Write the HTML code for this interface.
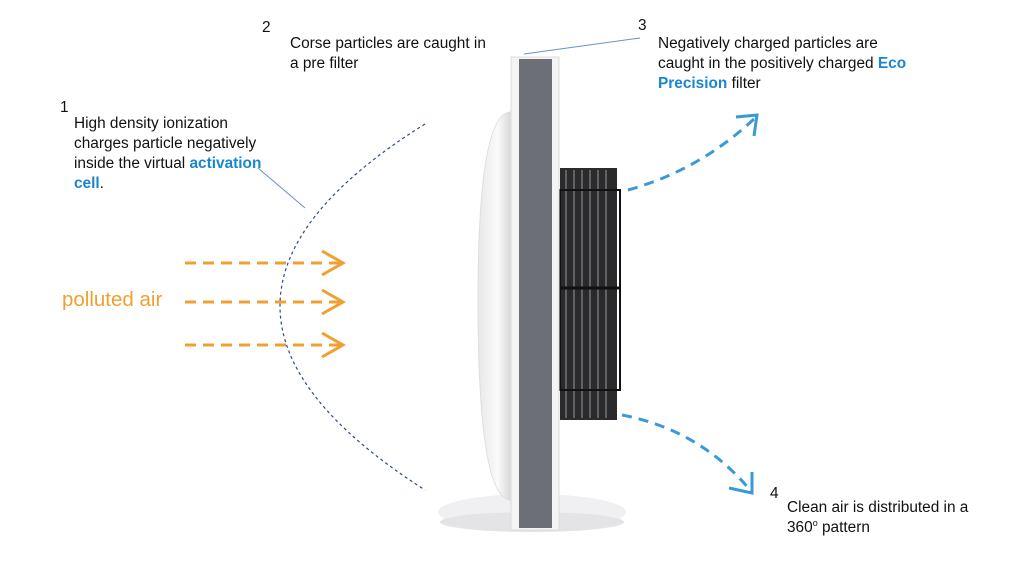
<!DOCTYPE html>
<html><head><style>
body{margin:0;width:1024px;height:576px;background:#fff;position:relative;overflow:hidden;font-family:"Liberation Sans",sans-serif;}
.t{position:absolute;font-size:15.4px;line-height:20px;color:#111;white-space:nowrap;}
.b{color:#1a86d0;font-weight:bold}
</style></head><body>
<svg width="1024" height="576" style="position:absolute;left:0;top:0">
<defs>
<linearGradient id="g1" x1="0" x2="1"><stop offset="0" stop-color="#e8e8ea"/><stop offset="0.6" stop-color="#fafafa"/><stop offset="1" stop-color="#d8d8da"/></linearGradient>
</defs>
<ellipse cx="532" cy="512" rx="94" ry="18" fill="#f0f0f2"/>
<ellipse cx="532" cy="522" rx="92" ry="10" fill="#e4e4e6"/>
<path d="M511 112 Q478 112 478 300 Q478 500 511 500 Z" fill="url(#g1)" stroke="#ddd"/>
<rect x="560" y="168" width="57" height="252" fill="#2a2a2c"/>
<g stroke="#999" stroke-width="1">
<line x1="566" y1="170" x2="566" y2="418"/><line x1="574" y1="170" x2="574" y2="418"/><line x1="582" y1="170" x2="582" y2="418"/><line x1="590" y1="170" x2="590" y2="418"/><line x1="598" y1="170" x2="598" y2="418"/><line x1="606" y1="170" x2="606" y2="418"/>
</g>
<rect x="560" y="190" width="60" height="200" fill="none" stroke="#111" stroke-width="2"/>
<line x1="560" y1="288" x2="620" y2="288" stroke="#111" stroke-width="3"/>
<rect x="511" y="57" width="48" height="473" fill="#f4f4f5" stroke="#ddd"/>
<rect x="519" y="59" width="33" height="469" fill="#6c7076"/>
<path d="M425 124 Q135 305 425 490" fill="none" stroke="#2c4a8a" stroke-width="1.2" stroke-dasharray="3,3"/>
<line x1="258" y1="168" x2="305" y2="208" stroke="#6a8fd0" stroke-width="1"/>
<line x1="524" y1="54" x2="640" y2="38" stroke="#6a8fd0" stroke-width="1"/>
<g stroke="#f0a030" stroke-width="3" fill="none" stroke-dasharray="11,7">
<line x1="185" y1="263" x2="340" y2="263"/><line x1="185" y1="302" x2="340" y2="302"/><line x1="185" y1="345" x2="340" y2="345"/>
</g>
<g stroke="#f0a030" stroke-width="3" fill="none">
<polyline points="322,251 343,263 322,275"/><polyline points="322,290 343,302 322,314"/><polyline points="322,333 343,345 322,357"/>
</g>
<path d="M628 190 Q700 170 755 118" fill="none" stroke="#3a9ad8" stroke-width="3" stroke-dasharray="10,7"/>
<polyline points="736,117 757,115 754,136" fill="none" stroke="#3a9ad8" stroke-width="3"/>
<path d="M622 415 Q700 430 750 490" fill="none" stroke="#3a9ad8" stroke-width="3" stroke-dasharray="10,7"/>
<polyline points="729,488 752,493 752,472" fill="none" stroke="#3a9ad8" stroke-width="3"/>
</svg>
<div class="t" style="left:60px;top:98px">1</div>
<div class="t" style="left:74px;top:114px">High density ionization<br>charges particle negatively<br>inside the virtual <span class="b">activation<br>cell</span>.</div>
<div class="t" style="left:262px;top:18px">2</div>
<div class="t" style="left:290px;top:34px">Corse particles are caught in<br>a pre filter</div>
<div class="t" style="left:638px;top:16px">3</div>
<div class="t" style="left:658px;top:34px">Negatively charged particles are<br>caught in the positively charged <span class="b">Eco<br>Precision</span> filter</div>
<div class="t" style="left:770px;top:484px">4</div>
<div class="t" style="left:787px;top:498px">Clean air is distributed in a<br>360<sup style="font-size:9px;line-height:0">o</sup> pattern</div>
<div class="t" style="left:62px;top:290px;font-size:20.5px;color:#f0a030">polluted air</div>
</body></html>
